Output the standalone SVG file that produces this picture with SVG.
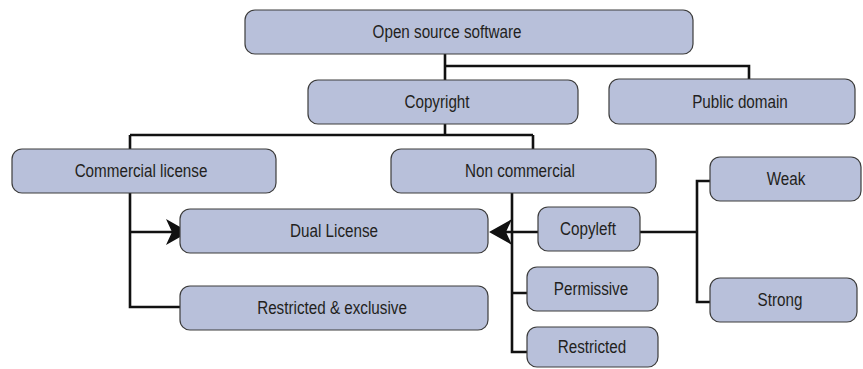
<svg xmlns="http://www.w3.org/2000/svg" width="863" height="369" viewBox="0 0 863 369">
<style>
.box{fill:#b8c0da;stroke:#3c3c3c;stroke-width:1.2}
.lbl{font-family:"Liberation Sans",Arial,sans-serif;font-size:17.5px;fill:#231f20;text-anchor:middle}
.ln{fill:none;stroke:#111;stroke-width:2.6}
.ah{fill:#111}
</style>
<rect width="863" height="369" fill="#fff"/>
<g id="connectors">
<path class="ln" d="M445,54 V80 M445,66 H749 V79"/>
<path class="ln" d="M445,124 V135 M130,135 H533 M130,135 V149 M533,135 V149"/>
<path class="ln" d="M130,193 V307 H180 M130,232 H176"/>
<path class="ln" d="M512,193 V352 H527 M512,293 H527 M538,232 H500"/>
<path class="ln" d="M640,232 H697 M710,181 H697 V302 H710"/>
<path class="ah" d="M189,232 L166,219 L172,232 L166,245 Z"/>
<path class="ah" d="M489,232 L512,219 L506,232 L512,245 Z"/>
</g>
<g id="n-oss"><rect class="box" x="245" y="10" width="448" height="44" rx="10"/><text class="lbl" transform="translate(447,38) scale(0.87,1)">Open source software</text></g>
<g id="n-copyright"><rect class="box" x="308" y="80" width="270" height="44" rx="10"/><text class="lbl" transform="translate(437,108) scale(0.87,1)">Copyright</text></g>
<g id="n-public"><rect class="box" x="609" y="79" width="246" height="45" rx="10"/><text class="lbl" transform="translate(740,108) scale(0.87,1)">Public domain</text></g>
<g id="n-commercial"><rect class="box" x="12" y="149" width="264" height="44" rx="10"/><text class="lbl" transform="translate(141,177) scale(0.87,1)">Commercial license</text></g>
<g id="n-noncommercial"><rect class="box" x="391" y="149" width="265" height="44" rx="10"/><text class="lbl" transform="translate(520,177) scale(0.87,1)">Non commercial</text></g>
<g id="n-dual"><rect class="box" x="180" y="209" width="308" height="44" rx="10"/><text class="lbl" transform="translate(334,237) scale(0.87,1)">Dual License</text></g>
<g id="n-restrexcl"><rect class="box" x="180" y="286" width="308" height="44" rx="10"/><text class="lbl" transform="translate(332,314) scale(0.87,1)">Restricted &amp; exclusive</text></g>
<g id="n-copyleft"><rect class="box" x="538" y="207" width="102" height="44" rx="10"/><text class="lbl" transform="translate(588,235) scale(0.87,1)">Copyleft</text></g>
<g id="n-permissive"><rect class="box" x="527" y="267" width="131" height="44" rx="10"/><text class="lbl" transform="translate(591,295) scale(0.87,1)">Permissive</text></g>
<g id="n-restricted"><rect class="box" x="527" y="327" width="131" height="40" rx="10"/><text class="lbl" transform="translate(592,353) scale(0.87,1)">Restricted</text></g>
<g id="n-weak"><rect class="box" x="710" y="157" width="151" height="44" rx="10"/><text class="lbl" transform="translate(786,185) scale(0.87,1)">Weak</text></g>
<g id="n-strong"><rect class="box" x="710" y="278" width="147" height="44" rx="10"/><text class="lbl" transform="translate(780,306) scale(0.87,1)">Strong</text></g>
</svg>
